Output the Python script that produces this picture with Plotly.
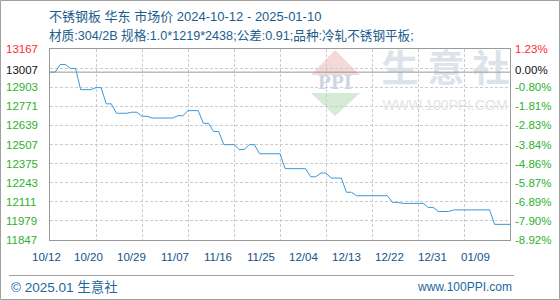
import plotly.graph_objects as go
import pandas as pd

# ---------------- data ----------------
START = "2024-10-12"
END = "2025-01-10"
BASE = 13007
dates = pd.date_range(START, END, freq="D")
prices = [
    13007, 13007, 13060, 13060, 13033, 13033, 12886, 12886, 12886, 12900,
    12900, 12788, 12788, 12723, 12723, 12723, 12730, 12730, 12702, 12702,
    12690, 12690, 12690, 12690, 12690, 12706, 12706, 12741, 12741, 12741,
    12653, 12653, 12597, 12597, 12506, 12506, 12506, 12473, 12473, 12506,
    12506, 12443, 12443, 12443, 12443, 12443, 12340, 12340, 12340, 12340,
    12340, 12284, 12284, 12310, 12310, 12275, 12275, 12275, 12177, 12177,
    12153, 12153, 12153, 12153, 12153, 12153, 12153, 12107, 12107, 12100,
    12100, 12100, 12100, 12100, 12072, 12072, 12044, 12044, 12044, 12055,
    12055, 12055, 12055, 12055, 12055, 12055, 12055, 11955, 11955, 11955,
    11955,
]
y_ticks = [11847, 11979, 12111, 12243, 12375, 12507, 12639, 12771, 12903, 13035, 13167]
y_labels_left = ["11847", "11979", "12111", "12243", "12375", "12507", "12639", "12771", "12903", "", "13167"]
x_labels = ["10/12", "10/20", "10/29", "11/07", "11/16", "11/25", "12/04", "12/13", "12/22", "12/31", "01/09"]
x_grid = pd.date_range(START, END, freq="9D")

TITLE1 = "不锈钢板 华东 市场价 2024-10-12 - 2025-01-10"
TITLE2 = "材质:304/2B 规格:1.0*1219*2438;公差:0.91;品种:冷轧不锈钢平板;"
FOOT_L = "© 2025.01 生意社"
FOOT_R = "www.100PPI.com"

# ---------------- layout helpers ----------------
W, H = 560, 300
L, R, T, B = 50, 50, 49, 60
PW, PH = W - L - R, H - T - B
YMIN, YMAX = y_ticks[0], y_ticks[-1]
FONT = "Liberation Sans, Arial, Noto Sans CJK SC, sans-serif"
GREEN = "#2eb12e"
RED = "#ff2b2b"
BLUE_T = "#1b5d8e"


def fx(px):
    return (px - L) / PW


def fy(py):
    return (H - B - py) / PH


t0 = pd.Timestamp(START)
span = (pd.Timestamp(END) - t0)


def dx(px):
    return t0 + span * ((px - L) / PW)


def dy(py):
    return YMIN + (H - B - py) / PH * (YMAX - YMIN)


fig = go.Figure()

# watermark text (drawn first, under the data)
wm_chars = ["<b>生</b>", "<b>意</b>", "<b>社</b>"]
wm_px = [400, 446, 491]
fig.add_trace(go.Scatter(
    x=[dx(p) for p in wm_px], y=[dy(72.5)] * 3, mode="text", text=wm_chars,
    textfont=dict(family="Noto Sans CJK SC", size=37, color="#dde3eb"),
    hoverinfo="skip", showlegend=False, cliponaxis=False))
fig.add_trace(go.Scatter(
    x=[dx(445)], y=[dy(106)], mode="text", text=["WWW.100PPI.COM"],
    textfont=dict(family=FONT, size=14, color="#e4e4e4"),
    hoverinfo="skip", showlegend=False, cliponaxis=False))
fig.add_trace(go.Scatter(
    x=[dx(335)], y=[dy(83.5)], mode="text", text=["<b>PPI</b>"],
    textfont=dict(family="Liberation Serif, serif", size=21, color="#cdd6e2"),
    hoverinfo="skip", showlegend=False, cliponaxis=False))

# main series
fig.add_trace(go.Scatter(
    x=dates, y=prices, mode="lines",
    line=dict(color="#3a98d8", width=1), showlegend=False, hoverinfo="skip"))

shapes = []
# logo triangles
shapes.append(dict(type="path", xref="paper", yref="paper", layer="below",
                   path=f"M {fx(335)} {fy(50)} L {fx(360)} {fy(75)} L {fx(311)} {fy(75)} Z",
                   fillcolor="#f5d8d8", line=dict(width=0)))
shapes.append(dict(type="path", xref="paper", yref="paper", layer="below",
                   path=f"M {fx(311)} {fy(93)} L {fx(360)} {fy(93)} L {fx(335)} {fy(116)} Z",
                   fillcolor="#d6ebd6", line=dict(width=0)))
# base line
shapes.append(dict(type="line", xref="paper", yref="y", x0=0, x1=1, y0=BASE, y1=BASE,
                   line=dict(color="#999999", width=1), layer="above"))
# footer separator
shapes.append(dict(type="line", xref="paper", yref="paper", x0=fx(9), x1=fx(514),
                   y0=fy(275.5), y1=fy(275.5), line=dict(color="#a0a0a0", width=1)))
# outer border
shapes.append(dict(type="rect", xref="paper", yref="paper", x0=fx(0.5), x1=fx(559.5),
                   y0=fy(299.5), y1=fy(0.5), line=dict(color="#a0a0a0", width=1)))

ann = []
# titles
ann.append(dict(text=TITLE1, xref="paper", yref="paper", x=fx(47), y=fy(16), xanchor="left",
                yanchor="middle", showarrow=False, font=dict(family=FONT, size=13, color=BLUE_T)))
ann.append(dict(text=TITLE2, xref="paper", yref="paper", x=fx(47), y=fy(35), xanchor="left",
                yanchor="middle", showarrow=False, font=dict(family=FONT, size=12.6, color=BLUE_T)))
# left / right labels
for v, lab in zip(y_ticks, y_labels_left):
    if not lab:
        continue
    col = RED if v == YMAX else GREEN
    ann.append(dict(text=lab, xref="paper", yref="y", x=fx(4), y=v, xanchor="left",
                    yanchor="middle", showarrow=False, font=dict(family=FONT, size=11.5, color=col)))
    pct = (v / BASE - 1) * 100
    ann.append(dict(text=f"{pct:.2f}%", xref="paper", yref="y", x=fx(513), y=v, xanchor="left",
                    yanchor="middle", showarrow=False, font=dict(family=FONT, size=11.5, color=col)))
ann.append(dict(text=str(BASE), xref="paper", yref="y", x=fx(4), y=BASE + 12, xanchor="left",
                yanchor="middle", showarrow=False, font=dict(family=FONT, size=11.5, color="#111111")))
ann.append(dict(text="0.00%", xref="paper", yref="y", x=fx(513), y=BASE + 12, xanchor="left",
                yanchor="middle", showarrow=False, font=dict(family=FONT, size=11.5, color="#111111")))
# x labels
n = len(x_labels)
for i, lab in enumerate(x_labels):
    px = 46 + (475 - 46) * i / (n - 1)
    ann.append(dict(text=lab, xref="paper", yref="paper", x=fx(px), y=fy(257), xanchor="center",
                    yanchor="middle", showarrow=False, font=dict(family=FONT, size=11.5, color="#0f5289")))
# footer
ann.append(dict(text=FOOT_L, xref="paper", yref="paper", x=fx(9), y=fy(287), xanchor="left",
                yanchor="middle", showarrow=False, font=dict(family=FONT, size=13.5, color="#23679c")))
ann.append(dict(text=FOOT_R, xref="paper", yref="paper", x=fx(514), y=fy(287), xanchor="right",
                yanchor="middle", showarrow=False, font=dict(family=FONT, size=12, color="#23679c")))

fig.update_layout(
    width=W, height=H, margin=dict(l=L, r=R, t=T, b=B),
    paper_bgcolor="white", plot_bgcolor="white",
    shapes=shapes, annotations=ann, showlegend=False,
    xaxis=dict(type="date", range=[START, END], tickvals=x_grid, showticklabels=False,
               showgrid=True, gridcolor="#cccccc", gridwidth=1, griddash="3px,2px",
               showline=True, linecolor="#999999", linewidth=1, mirror=True,
               zeroline=False, ticks="", fixedrange=True),
    yaxis=dict(range=[YMIN, YMAX], tickvals=y_ticks, showticklabels=False,
               showgrid=True, gridcolor="#cccccc", gridwidth=1, griddash="3px,2px",
               showline=True, linecolor="#999999", linewidth=1, mirror=True,
               zeroline=False, ticks="", fixedrange=True),
)

fig.write_html("out.html")
